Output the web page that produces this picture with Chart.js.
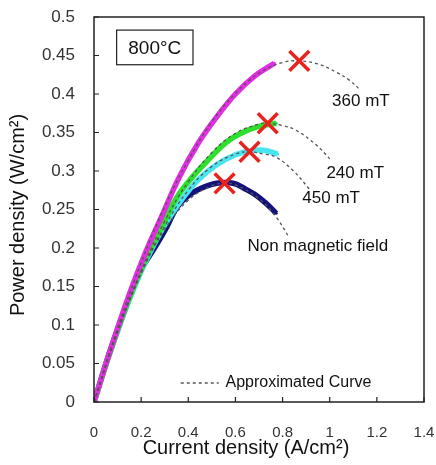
<!DOCTYPE html>
<html>
<head>
<meta charset="utf-8">
<script src="https://cdn.jsdelivr.net/npm/chart.js@4.4.1/dist/chart.umd.min.js"></script>
<style>
  html, body { margin: 0; padding: 0; background: #fff; }
  #wrap { width: 436px; height: 465px; }
</style>
</head>
<body>
<div id="wrap"><canvas id="c" width="436" height="465"></canvas></div>
<script>
// Measured curves (current density A/cm2, power density W/cm2)
const mag360 = [[0,0],[0.07,0.068],[0.15,0.140],[0.22,0.195],[0.29,0.243],[0.36,0.291],[0.44,0.335],[0.52,0.370],[0.6,0.400],[0.68,0.423],[0.765,0.440]];
const mag240 = [[0,0],[0.07,0.066],[0.15,0.135],[0.22,0.186],[0.28,0.222],[0.35,0.265],[0.42,0.293],[0.49,0.316],[0.56,0.337],[0.63,0.350],[0.7,0.358],[0.773,0.362]];
const mag450 = [[0,0],[0.07,0.066],[0.15,0.133],[0.22,0.183],[0.3,0.230],[0.37,0.262],[0.44,0.288],[0.52,0.308],[0.6,0.321],[0.66,0.326],[0.72,0.327],[0.779,0.322]];
const nonMag = [[0,0],[0.07,0.068],[0.15,0.135],[0.2,0.172],[0.265,0.204],[0.31,0.228],[0.35,0.252],[0.40,0.268],[0.45,0.277],[0.52,0.284],[0.59,0.284],[0.64,0.277],[0.68,0.270],[0.73,0.258],[0.773,0.245]];

// Approximated curves (dashed)
const fit360 = [[0,0],[0.1,0.096],[0.2,0.181],[0.3,0.254],[0.4,0.314],[0.5,0.364],[0.6,0.401],[0.7,0.427],[0.8,0.441],[0.871,0.443],[0.95,0.439],[1.03,0.428],[1.083,0.418],[1.131,0.405]];
const fit240 = [[0,0],[0.1,0.092],[0.2,0.170],[0.3,0.235],[0.4,0.286],[0.5,0.324],[0.6,0.349],[0.7,0.361],[0.737,0.362],[0.8,0.359],[0.857,0.353],[0.942,0.334],[1.0,0.316]];
const fit450 = [[0,0],[0.1,0.091],[0.2,0.167],[0.3,0.228],[0.4,0.275],[0.5,0.306],[0.6,0.322],[0.66,0.325],[0.72,0.322],[0.772,0.318],[0.843,0.301],[0.913,0.277]];
const fitNon = [[0,0],[0.1,0.093],[0.2,0.168],[0.3,0.224],[0.4,0.262],[0.5,0.281],[0.554,0.284],[0.6,0.282],[0.7,0.264],[0.773,0.240],[0.829,0.213]];

// Maximum power points
const peaks = [[0.871,0.443],[0.737,0.362],[0.66,0.325],[0.554,0.284]];

const xTicks = [0, 0.2, 0.4, 0.6, 0.8, 1, 1.2, 1.4];
const yTicks = [0, 0.05, 0.1, 0.15, 0.2, 0.25, 0.3, 0.35, 0.4, 0.45, 0.5];

// text labels in data units
const curveLabels = [
  { text: "360 mT", x: 1.01, y: 0.390 },
  { text: "240 mT", x: 0.986, y: 0.297 },
  { text: "450 mT", x: 0.884, y: 0.264 },
  { text: "Non magnetic field", x: 0.651, y: 0.202 }
];

const pts = arr => arr.map(p => ({ x: p[0], y: p[1] }));

function dataLine(arr, color) {
  return { data: pts(arr), showLine: true, borderColor: color, backgroundColor: color,
           borderWidth: 5.5, pointRadius: 1.5, pointBorderWidth: 0, tension: 0.4 };
}
function fitLine(arr) {
  return { data: pts(arr), showLine: true, borderColor: "#555", borderWidth: 1.3,
           borderDash: [3, 3], pointRadius: 0, tension: 0.4 };
}

function noPad(s) {
  s.paddingTop = 0; s.paddingBottom = 0; s.paddingLeft = 0; s.paddingRight = 0;
}

const decor = {
  id: "decor",
  afterDraw(chart) {
    const ctx = chart.ctx, a = chart.chartArea;
    const xs = chart.scales.x, ys = chart.scales.y;
    ctx.save();
    // frame
    ctx.strokeStyle = "#222";
    ctx.lineWidth = 1.5;
    ctx.strokeRect(a.left, a.top, a.right - a.left, a.bottom - a.top);
    // inward ticks
    ctx.lineWidth = 1.2;
    ctx.beginPath();
    yTicks.forEach(v => {
      const py = ys.getPixelForValue(v);
      ctx.moveTo(a.left, py); ctx.lineTo(a.left + 5, py);
    });
    xTicks.forEach(v => {
      const px = xs.getPixelForValue(v);
      ctx.moveTo(px, a.bottom); ctx.lineTo(px, a.bottom - 5);
    });
    ctx.stroke();

    // curve labels
    ctx.fillStyle = "#111";
    ctx.font = "17px 'Liberation Sans', Arial, sans-serif";
    ctx.textBaseline = "middle";
    ctx.textAlign = "left";
    curveLabels.forEach(l => ctx.fillText(l.text, xs.getPixelForValue(l.x), ys.getPixelForValue(l.y)));

    // legend for approximated curve
    const ly = ys.getPixelForValue(0.0247);
    ctx.strokeStyle = "#555";
    ctx.lineWidth = 1.3;
    ctx.setLineDash([3, 3]);
    ctx.beginPath();
    ctx.moveTo(xs.getPixelForValue(0.368), ly);
    ctx.lineTo(xs.getPixelForValue(0.529), ly);
    ctx.stroke();
    ctx.setLineDash([]);
    ctx.font = "16px 'Liberation Sans', Arial, sans-serif";
    ctx.fillText("Approximated Curve", xs.getPixelForValue(0.558), ly);

    // temperature box
    const bx0 = xs.getPixelForValue(0.096), bx1 = xs.getPixelForValue(0.42);
    const by0 = ys.getPixelForValue(0.483), by1 = ys.getPixelForValue(0.438);
    ctx.strokeStyle = "#222";
    ctx.lineWidth = 1.2;
    ctx.strokeRect(bx0, by0, bx1 - bx0, by1 - by0);
    ctx.font = "19px 'Liberation Sans', Arial, sans-serif";
    ctx.textAlign = "center";
    ctx.fillText("800°C", (bx0 + bx1) / 2, (by0 + by1) / 2 + 1);

    // axis titles
    ctx.font = "20px 'Liberation Sans', Arial, sans-serif";
    ctx.fillText("Current density (A/cm²)", 246, 448);
    ctx.translate(18, 215);
    ctx.rotate(-Math.PI / 2);
    ctx.fillText("Power density (W/cm²)", 0, 0);
    ctx.restore();
  }
};

new Chart(document.getElementById("c"), {
  type: "scatter",
  data: {
    datasets: [
      { data: pts(peaks), pointStyle: "crossRot", pointRadius: 14, pointBorderWidth: 3.5,
        borderColor: "#e8231e", backgroundColor: "#e8231e", showLine: false },
      fitLine(fit360), fitLine(fit240), fitLine(fit450), fitLine(fitNon),
      dataLine(mag360, "#e02ee0"),
      dataLine(mag240, "#2de02d"),
      dataLine(mag450, "#48e4f0"),
      dataLine(nonMag, "#12127a")
    ]
  },
  options: {
    responsive: false,
    animation: false,
    layout: { autoPadding: false, padding: { top: 17, right: 12, left: 0, bottom: 0 } },
    plugins: { legend: { display: false }, tooltip: { enabled: false } },
    scales: {
      x: {
        type: "linear", min: 0, max: 1.4,
        afterBuildTicks: s => { s.ticks = xTicks.map(v => ({ value: v })); },
        afterFit: s => { s.height = 63; noPad(s); },
        grid: { display: false, drawTicks: false },
        border: { display: false },
        ticks: { padding: 22, color: "#333", font: { family: "'Liberation Sans', Arial", size: 15 },
                 callback: v => String(v) }
      },
      y: {
        min: 0, max: 0.5,
        afterBuildTicks: s => { s.ticks = yTicks.map(v => ({ value: v })); },
        afterFit: s => { s.width = 94; noPad(s); },
        grid: { display: false, drawTicks: false },
        border: { display: false },
        ticks: { padding: 19, color: "#333", font: { family: "'Liberation Sans', Arial", size: 17 },
                 callback: v => String(v) }
      }
    }
  },
  plugins: [decor]
});
</script>
</body>
</html>
